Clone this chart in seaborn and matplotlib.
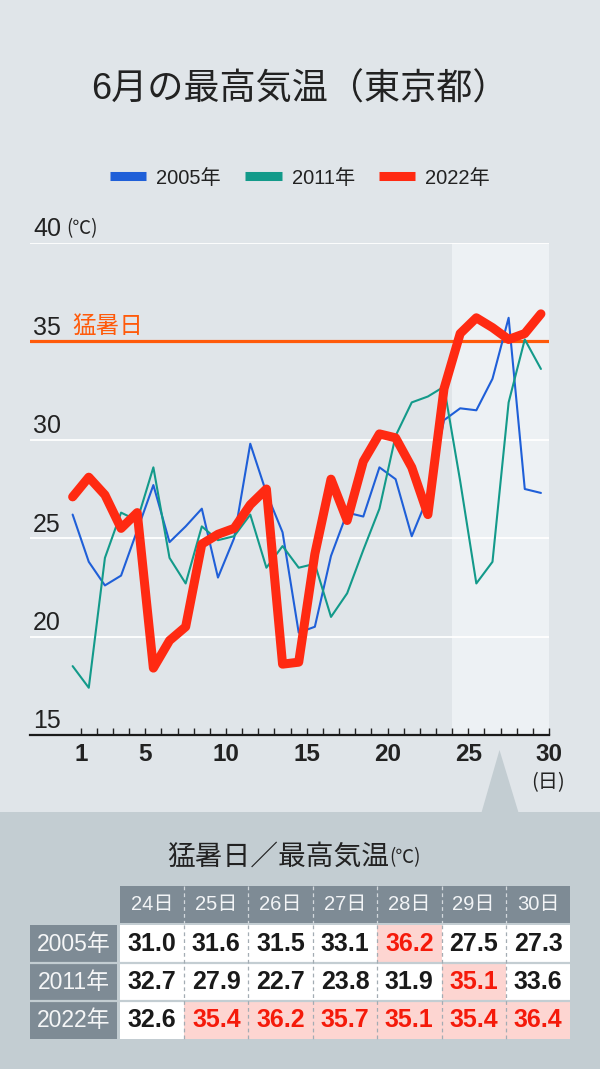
import numpy as np
import pandas as pd
import matplotlib
matplotlib.use("Agg")
import matplotlib.pyplot as plt
import seaborn as sns
from matplotlib.patches import Rectangle, Polygon
from matplotlib.lines import Line2D
from matplotlib.colors import ListedColormap

# ---------------- data ----------------
days = list(range(1, 31))
t2005 = [26.2, 23.8, 22.6, 23.1, 25.4, 27.7, 24.8, 25.6, 26.5, 23.0,
         25.0, 29.8, 27.3, 25.3, 20.2, 20.5, 24.1, 26.3, 26.1, 28.6,
         28.0, 25.1, 27.1, 31.0, 31.6, 31.5, 33.1, 36.2, 27.5, 27.3]
t2011 = [18.5, 17.4, 24.0, 26.3, 25.9, 28.6, 24.0, 22.7, 25.6, 24.9,
         25.1, 26.2, 23.5, 24.6, 23.5, 23.7, 21.0, 22.2, 24.4, 26.5,
         30.2, 31.9, 32.2, 32.7, 27.9, 22.7, 23.8, 31.9, 35.1, 33.6]
t2022 = [27.1, 28.1, 27.2, 25.5, 26.3, 18.4, 19.8, 20.5, 24.7, 25.2,
         25.5, 26.7, 27.5, 18.6, 18.7, 24.2, 28.0, 25.9, 28.9, 30.3,
         30.1, 28.6, 26.2, 32.6, 35.4, 36.2, 35.7, 35.1, 35.4, 36.4]
years = ["2005年", "2011年", "2022年"]
colors = ["#1f5fd8", "#139a8a", "#ff2a12"]

table_days = ["24日", "25日", "26日", "27日", "28日", "29日", "30日"]
table_2005 = [31.0, 31.6, 31.5, 33.1, 36.2, 27.5, 27.3]
table_2011 = [32.7, 27.9, 22.7, 23.8, 31.9, 35.1, 33.6]
table_2022 = [32.6, 35.4, 36.2, 35.7, 35.1, 35.4, 36.4]
hot_threshold = 35.0

y_ticks = [15, 20, 25, 30, 35, 40]
x_ticks = [1, 5, 10, 15, 20, 25, 30]

# ---------------- style ----------------
sns.set_theme(style="white")
plt.rcParams["font.family"] = ["Liberation Sans", "Noto Sans CJK JP"]
CJK = ["Noto Sans CJK JP", "Liberation Sans"]

BG = "#e0e5e9"
BG2 = "#c3cdd2"
DARK = "#222222"
ORANGE = "#ff5a0a"
RED_TXT = "#f51a0a"
HEAD = "#7e8b95"

W, H = 600, 1069
fig = plt.figure(figsize=(W / 100, H / 100), dpi=100)
fig.patch.set_facecolor(BG)


def fx(px):
    return px / W


def fy(py):
    return 1 - py / H


# bottom panel with pointer
fig.add_artist(Rectangle((0, 0), 1, fy(812), transform=fig.transFigure,
                         facecolor=BG2, edgecolor="none", zorder=0))
fig.add_artist(Polygon([(fx(481.5), fy(812.5)), (fx(499.5), fy(750)), (fx(518.5), fy(812.5))],
                       closed=True, transform=fig.transFigure,
                       facecolor=BG2, edgecolor="none", zorder=0))

# ---------------- line chart ----------------
ax = fig.add_axes([fx(30), fy(735), 519 / W, 492 / H])
ax.set_facecolor(BG)

df = pd.DataFrame({
    "day": days * 3,
    "temp": t2005 + t2011 + t2022,
    "year": [years[0]] * 30 + [years[1]] * 30 + [years[2]] * 30,
})
df["pos"] = df["day"] - 0.5

ax.axvspan(24, 30, color="#edf1f4", lw=0, zorder=0.2)
ax.axhline(35, color=ORANGE, lw=2.3, zorder=1.5)

sns.lineplot(data=df, x="pos", y="temp", hue="year", size="year",
             sizes={years[0]: 1.5, years[1]: 1.5, years[2]: 6.5},
             palette=dict(zip(years, colors)), legend=False, sort=False,
             ax=ax, zorder=2)
for ln in ax.lines:
    ln.set_solid_capstyle("round")

ax.set_xlim(-2.14, 30)
ax.set_ylim(15, 40)
ax.set_yticks(y_ticks)
ax.tick_params(axis="y", left=False, labelleft=False)
ax.yaxis.grid(True, color="white", lw=1.3)
ax.xaxis.grid(False)
ax.set_axisbelow(True)

ax.set_xticks(x_ticks)
ax.set_xticklabels([str(v) for v in x_ticks], fontsize=17.5, fontweight="bold", color=DARK)
ax.set_xticks(range(1, 31), minor=True)
ax.tick_params(axis="x", which="both", direction="in", length=5, width=1,
               color=DARK, pad=6, bottom=True)
ax.set_xlabel("")
ax.set_ylabel("")
for s in ["left", "top", "right"]:
    ax.spines[s].set_visible(False)
ax.spines["bottom"].set_color("#1a1a1a")
ax.spines["bottom"].set_linewidth(1.6)

for v in y_ticks:
    ax.text(-1.95, v + 0.34, str(v), ha="left", va="baseline",
            fontsize=18, color=DARK)
ax.text(0.1, 40.45, "(℃)", ha="left", va="baseline", fontsize=13.5, color=DARK,
        family=CJK)
ax.text(0.46, 35.45, "猛暑日", ha="left", va="baseline", fontsize=17,
        color=ORANGE, family=CJK)

fig.text(fx(548), fy(783), "(日)", ha="center", va="center", fontsize=14.5,
         color=DARK, family=CJK)

# title
fig.text(0.5, fy(90), "6月の最高気温（東京都）", ha="center", va="center",
         fontsize=26, color=DARK,
         family=["Liberation Sans", "Noto Sans CJK JP"])

# legend
handles = [Line2D([0], [0], color=c, lw=6.5, solid_capstyle="butt") for c in colors]
fig.legend(handles, years, loc="center", bbox_to_anchor=(0.5, fy(178)), ncol=3,
           frameon=False, fontsize=14.5, handlelength=1.8, handletextpad=0.5,
           columnspacing=1.2, labelcolor=DARK)

# ---------------- table ----------------
fig.text(fx(389), fy(857), "猛暑日／最高気温", ha="right", va="center",
         fontsize=20, color=DARK, family=CJK)
fig.text(fx(389), fy(858), "(℃)", ha="left", va="center",
         fontsize=13.5, color=DARK, family=CJK)

vals = np.array([table_2005, table_2011, table_2022])
hot = (vals >= hot_threshold).astype(float)
tax = fig.add_axes([fx(119.8), fy(1039.3), 450.4 / W, 114.3 / H])
sns.heatmap(hot, cmap=ListedColormap(["white", "#fdd5d1"]), vmin=0, vmax=1,
            cbar=False, annot=vals, fmt=".1f",
            annot_kws={"fontsize": 18, "fontweight": "bold"},
            xticklabels=False, yticklabels=False, ax=tax)
for t in tax.texts:
    t.set_color(RED_TXT if float(t.get_text()) >= hot_threshold else "#1a1a1a")

# header
tax.add_patch(Rectangle((0, -1.024), 7, 0.964, facecolor=HEAD, edgecolor="none",
                        clip_on=False, zorder=3))
for j, lab in enumerate(table_days):
    tax.text(j + 0.5, -0.54, lab, ha="center", va="center", fontsize=14.5,
             color="#f2f4f6", clip_on=False, zorder=4)
# row labels
for i, lab in enumerate(years):
    tax.add_patch(Rectangle((-1.396, i), 1.352, 1, facecolor=HEAD, edgecolor="none",
                            clip_on=False, zorder=3))
    tax.text(-0.72, i + 0.5, lab, ha="center", va="center", fontsize=16.5,
             color="#f5f6f7", clip_on=False, zorder=4)
# row gaps and dashed column separators
tax.hlines([1, 2], -1.4, 7, colors=BG2, lw=1.6, clip_on=False, zorder=5)
tax.vlines(range(1, 7), -1.024, -0.06, colors="#d3d9dd", lw=0.9,
           linestyles=(0, (3, 2.5)), clip_on=False, zorder=5)
tax.vlines(range(1, 7), 0, 3, colors="#a3acb3", lw=0.9,
           linestyles=(0, (3, 2.5)), clip_on=False, zorder=5)

fig.savefig("out.png", dpi=100, facecolor=BG)
